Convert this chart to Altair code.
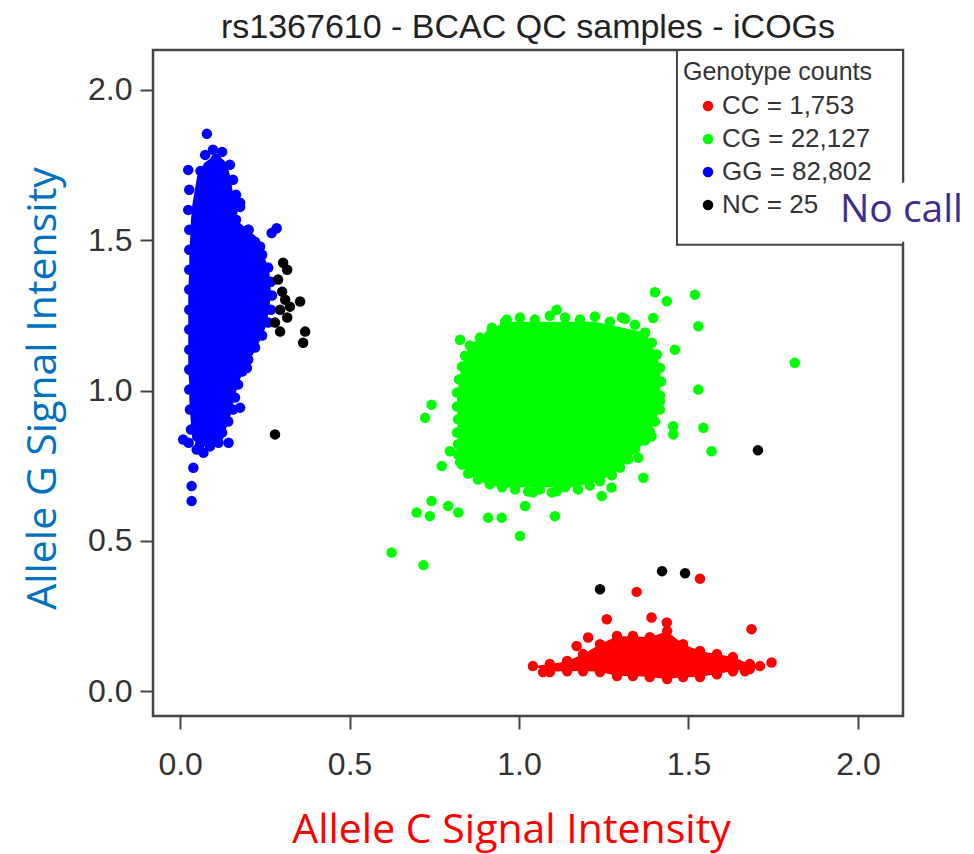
import altair as alt
import pandas as pd

TITLE = "rs1367610 - BCAC QC samples - iCOGs"
X_TITLE = "Allele C Signal Intensity"
Y_TITLE = "Allele G Signal Intensity"
LEGEND_TITLE = "Genotype counts"
NOTE_TEXT = ["No call"]

genotype_labels = ["CC = 1,753", "CG = 22,127", "GG = 82,802", "NC = 25"]
genotype_colors = ["#FF0000", "#00FF00", "#0000FF", "#000000"]
tick_values = [0.0, 0.5, 1.0, 1.5, 2.0]
x_domain = [-0.08, 2.133]
y_domain = [-0.083, 2.133]

# dense cores of each cluster: envelope through the outermost dot centres
blue_env_y = [1.780, 1.757, 1.711, 1.658, 1.618, 1.568, 1.512, 1.458, 1.402, 1.326, 1.269,
              1.213, 1.159, 1.120, 1.070, 1.020, 0.970, 0.920, 0.870, 0.837, 0.820]
blue_env_x0 = [0.100, 0.071, 0.050, 0.042, 0.036, 0.032, 0.030, 0.027, 0.027, 0.024, 0.024,
               0.024, 0.024, 0.024, 0.024, 0.027, 0.027, 0.030, 0.033, 0.036, 0.057]
blue_env_x1 = [0.115, 0.138, 0.148, 0.156, 0.174, 0.165, 0.224, 0.244, 0.263, 0.268, 0.263,
               0.253, 0.233, 0.215, 0.188, 0.171, 0.159, 0.150, 0.135, 0.126, 0.088]

green_env_y = [1.229, 1.193, 1.150, 1.116, 1.076, 1.030, 0.983, 0.937, 0.897, 0.860, 0.821,
               0.787, 0.754, 0.724, 0.698, 0.678]
green_env_x0 = [0.959, 0.900, 0.855, 0.841, 0.829, 0.823, 0.817, 0.817, 0.820, 0.817, 0.820,
                0.820, 0.832, 0.850, 0.879, 0.944]
green_env_x1 = [1.224, 1.372, 1.392, 1.407, 1.416, 1.419, 1.416, 1.416, 1.401, 1.386, 1.366,
                1.336, 1.310, 1.280, 1.239, 1.150]

red_env_x = [1.042, 1.091, 1.141, 1.190, 1.239, 1.288, 1.337, 1.386, 1.436, 1.485, 1.534,
             1.583, 1.632, 1.681, 1.711]
red_env_lo = [0.083, 0.064, 0.067, 0.067, 0.064, 0.050, 0.050, 0.047, 0.040, 0.047, 0.047,
              0.057, 0.067, 0.073, 0.080]
red_env_hi = [0.083, 0.089, 0.099, 0.123, 0.156, 0.182, 0.182, 0.179, 0.199, 0.156, 0.133,
              0.123, 0.113, 0.089, 0.080]

# individual samples: outliers
gg_x = [0.079, 0.202, 0.270, 0.285, 0.236, 0.177, 0.197, 0.177, 0.143, 0.113, 0.025, 0.049,
        0.069, 0.039, 0.034, 0.034, 0.009, 0.105, 0.060]
gg_y = [1.854, 1.535, 1.524, 1.540, 1.479, 1.625, 1.075, 0.943, 0.826, 0.826, 0.826, 0.804,
        0.793, 0.743, 0.682, 0.632, 0.837, 1.770, 1.730]
# samples on the rim of the GG cloud
gg_rim_x = [0.124, 0.147, 0.156, 0.165, 0.177, 0.165, 0.201, 0.221, 0.242, 0.260, 0.268,
            0.271, 0.268, 0.260, 0.242, 0.221, 0.201, 0.183, 0.171, 0.162, 0.156, 0.142,
            0.124, 0.024, 0.027, 0.024, 0.027, 0.027, 0.027, 0.027, 0.027, 0.027, 0.027,
            0.027, 0.027, 0.029, 0.032, 0.074, 0.097, 0.059, 0.088]
gg_rim_y = [1.794, 1.751, 1.701, 1.651, 1.611, 1.568, 1.535, 1.495, 1.452, 1.409, 1.362,
            1.316, 1.269, 1.226, 1.183, 1.143, 1.103, 1.063, 1.020, 0.977, 0.937, 0.897,
            0.860, 1.734, 1.668, 1.601, 1.535, 1.468, 1.402, 1.336, 1.269, 1.203, 1.136,
            1.070, 1.003, 0.937, 0.870, 1.784, 1.801, 0.821, 0.814]

cg_x = [1.401, 1.436, 1.519, 1.396, 1.529, 1.313, 1.111, 0.964, 0.919, 0.826, 1.460, 1.814,
        1.529, 0.742, 0.723, 1.416, 1.455, 1.455, 1.544, 1.568, 1.391, 1.352, 1.367, 1.273,
        1.244, 1.189, 1.106, 1.111, 1.018, 1.003, 0.949, 0.909, 0.821, 0.791, 0.742, 0.737,
        0.698, 0.772, 0.796, 0.826, 0.624, 0.718, 1.041]
cg_y = [1.327, 1.297, 1.319, 1.241, 1.214, 1.239, 1.269, 1.236, 1.197, 1.169, 1.136, 1.092,
        1.003, 0.953, 0.909, 0.964, 0.881, 0.854, 0.876, 0.798, 0.848, 0.776, 0.710, 0.677,
        0.649, 0.704, 0.582, 0.665, 0.616, 0.516, 0.577, 0.577, 0.594, 0.616, 0.632, 0.582,
        0.594, 0.749, 0.798, 0.761, 0.461, 0.419, 0.661]
cg_rim_x = [0.885, 0.920, 0.959, 1.003, 1.047, 1.091, 1.136, 1.180, 1.224, 1.268, 1.304,
            1.342, 1.372, 1.392, 1.407, 1.416, 1.419, 1.416, 1.416, 1.401, 1.386, 1.372,
            1.342, 1.322, 1.298, 1.274, 1.239, 1.209, 1.174, 1.136, 1.097, 1.062, 1.027,
            0.988, 0.950, 0.914, 0.879, 0.850, 0.832, 0.820, 0.820, 0.817, 0.820, 0.817,
            0.817, 0.823, 0.832, 0.841, 0.855]
cg_rim_y = [1.176, 1.209, 1.229, 1.243, 1.236, 1.249, 1.243, 1.236, 1.246, 1.229, 1.243,
            1.219, 1.193, 1.159, 1.120, 1.076, 1.030, 0.983, 0.937, 0.897, 0.864, 0.834,
            0.804, 0.771, 0.744, 0.718, 0.698, 0.684, 0.671, 0.678, 0.661, 0.671, 0.664,
            0.671, 0.678, 0.688, 0.704, 0.724, 0.754, 0.787, 0.821, 0.860, 0.904, 0.947,
            0.993, 1.037, 1.080, 1.116, 1.150]

cc_x = [1.534, 1.347, 1.686, 1.745, 1.259, 1.391, 1.204, 1.170, 1.436, 1.041, 1.071, 1.711,
        1.667]
cc_y = [0.374, 0.330, 0.206, 0.095, 0.239, 0.245, 0.178, 0.150, 0.228, 0.083, 0.063, 0.083,
        0.066]
cc_rim_x = [1.091, 1.142, 1.189, 1.239, 1.289, 1.336, 1.386, 1.437, 1.484, 1.534, 1.584,
            1.631, 1.681, 1.091, 1.142, 1.189, 1.239, 1.289, 1.336, 1.386, 1.437, 1.484,
            1.534, 1.584, 1.631, 1.681]
cc_rim_y = [0.090, 0.100, 0.123, 0.156, 0.183, 0.183, 0.179, 0.199, 0.156, 0.133, 0.123,
            0.113, 0.090, 0.063, 0.066, 0.066, 0.063, 0.050, 0.050, 0.047, 0.040, 0.047,
            0.047, 0.056, 0.066, 0.073]

nc_x = [0.304, 0.316, 0.289, 0.301, 0.310, 0.354, 0.324, 0.295, 0.316, 0.280, 0.295, 0.369,
        0.363, 0.280, 1.239, 1.422, 1.490, 1.705]
nc_y = [1.425, 1.402, 1.369, 1.329, 1.302, 1.296, 1.279, 1.269, 1.243, 1.226, 1.196, 1.196,
        1.159, 0.854, 0.339, 0.399, 0.392, 0.801]

# legend frame and "No call" annotation, in data coordinates
legend_box_x = [1.466]
legend_box_x2 = [2.133]
legend_box_y = [1.485]
legend_box_y2 = [2.133]
note_x = [1.947]
note_y = [1.561]
note_box_x = [1.938]
note_box_x2 = [2.330]
note_box_y = [1.495]
note_box_y2 = [1.691]

BLUE, GREEN, RED = genotype_colors[2], genotype_colors[1], genotype_colors[0]

points = pd.concat([
    pd.DataFrame({"x": gg_x + gg_rim_x, "y": gg_y + gg_rim_y, "g": genotype_labels[2]}),
    pd.DataFrame({"x": cg_x + cg_rim_x, "y": cg_y + cg_rim_y, "g": genotype_labels[1]}),
    pd.DataFrame({"x": cc_x + cc_rim_x, "y": cc_y + cc_rim_y, "g": genotype_labels[0]}),
    pd.DataFrame({"x": nc_x, "y": nc_y, "g": genotype_labels[3]}),
], ignore_index=True)

xs = alt.Scale(domain=x_domain, nice=False, zero=False)
ys = alt.Scale(domain=y_domain, nice=False, zero=False)
xaxis = alt.Axis(values=tick_values, format=".1f")
yaxis = alt.Axis(values=tick_values, format=".1f")

blue_core = alt.Chart(pd.DataFrame({"y": blue_env_y, "x0": blue_env_x0, "x1": blue_env_x1})).mark_area(
    orient="horizontal", color=BLUE, opacity=1, interpolate="linear"
).encode(
    y=alt.Y("y:Q", scale=ys, title=Y_TITLE),
    x=alt.X("x0:Q", scale=xs, title=X_TITLE),
    x2="x1:Q",
)

green_core = alt.Chart(pd.DataFrame({"y": green_env_y, "x0": green_env_x0, "x1": green_env_x1})).mark_area(
    orient="horizontal", color=GREEN, opacity=1, interpolate="linear"
).encode(
    y=alt.Y("y:Q", scale=ys, title=Y_TITLE),
    x=alt.X("x0:Q", scale=xs, title=X_TITLE),
    x2="x1:Q",
)

red_core = alt.Chart(pd.DataFrame({"x": red_env_x, "lo": red_env_lo, "hi": red_env_hi})).mark_area(
    orient="vertical", color=RED, opacity=1, interpolate="linear"
).encode(
    x=alt.X("x:Q", scale=xs, title=X_TITLE),
    y=alt.Y("lo:Q", scale=ys, title=Y_TITLE),
    y2="hi:Q",
)

dots = alt.Chart(points).mark_circle(size=110, opacity=1).encode(
    x=alt.X("x:Q", scale=xs, axis=xaxis, title=X_TITLE),
    y=alt.Y("y:Q", scale=ys, axis=yaxis, title=Y_TITLE),
    color=alt.Color(
        "g:N",
        scale=alt.Scale(domain=genotype_labels, range=genotype_colors),
        legend=alt.Legend(
            title=LEGEND_TITLE,
            orient="none",
            legendX=530,
            legendY=10,
            padding=0,
            symbolType="circle",
            symbolSize=110,
            symbolStrokeWidth=0,
            symbolOffset=12,
            labelOffset=1,
            rowPadding=7,
            titlePadding=8,
            titleLimit=400,
            labelLimit=400,
        ),
    ),
)

legend_box = alt.Chart(pd.DataFrame({"x": legend_box_x, "x2": legend_box_x2, "y": legend_box_y, "y2": legend_box_y2})).mark_rect(
    fill="white", stroke="#444444", strokeWidth=2
).encode(
    x=alt.X("x:Q", scale=xs, title=X_TITLE),
    x2="x2:Q",
    y=alt.Y("y:Q", scale=ys, title=Y_TITLE),
    y2="y2:Q",
)

note_bg = alt.Chart(pd.DataFrame({"x": note_box_x, "x2": note_box_x2, "y": note_box_y, "y2": note_box_y2})).mark_rect(
    color="white"
).encode(
    x=alt.X("x:Q", scale=xs, title=X_TITLE),
    x2="x2:Q",
    y=alt.Y("y:Q", scale=ys, title=Y_TITLE),
    y2="y2:Q",
)

note = alt.Chart(pd.DataFrame({"x": note_x, "y": note_y, "t": NOTE_TEXT})).mark_text(
    align="left", baseline="alphabetic", font="Open Sans", fontSize=39, color="#402C8E"
).encode(
    x=alt.X("x:Q", scale=xs, title=X_TITLE),
    y=alt.Y("y:Q", scale=ys, title=Y_TITLE),
    text="t:N",
)

chart = alt.layer(blue_core, green_core, red_core, dots, legend_box, note_bg, note).properties(
    width=750,
    height=666,
    title=TITLE,
    autosize=alt.AutoSizeParams(type="none"),
    padding={"left": 145, "top": 42, "right": 63, "bottom": 138},
).configure_view(
    stroke="#444444", strokeWidth=2.5
).configure_axis(
    grid=False, domain=False,
    labelFont="Liberation Sans", labelFontSize=32, labelColor="#333333",
    tickColor="#444444", tickWidth=2, tickSize=13,
    titleFont="Open Sans", titleFontSize=41, titleFontWeight="normal",
).configure_axisX(
    labelPadding=20,
    titleColor="#FF0000", titleX=358, titleY=126, titleBaseline="alphabetic", titleAlign="center",
).configure_axisY(
    labelPadding=8,
    titleColor="#0070C0", titleX=-98, titleY=338, titleAngle=270, titleBaseline="alphabetic",
    titleAlign="center",
).configure_legend(
    titleFont="Liberation Sans", titleFontSize=25, titleFontWeight="normal", titleColor="#333333",
    labelFont="Liberation Sans", labelFontSize=26, labelColor="#333333",
).configure_title(
    font="Liberation Sans", fontSize=34, fontWeight="normal", color="#222222", anchor="middle",
    offset=4, baseline="alphabetic",
)

chart.save("out.html", embed_options={"renderer": "svg", "actions": False})
